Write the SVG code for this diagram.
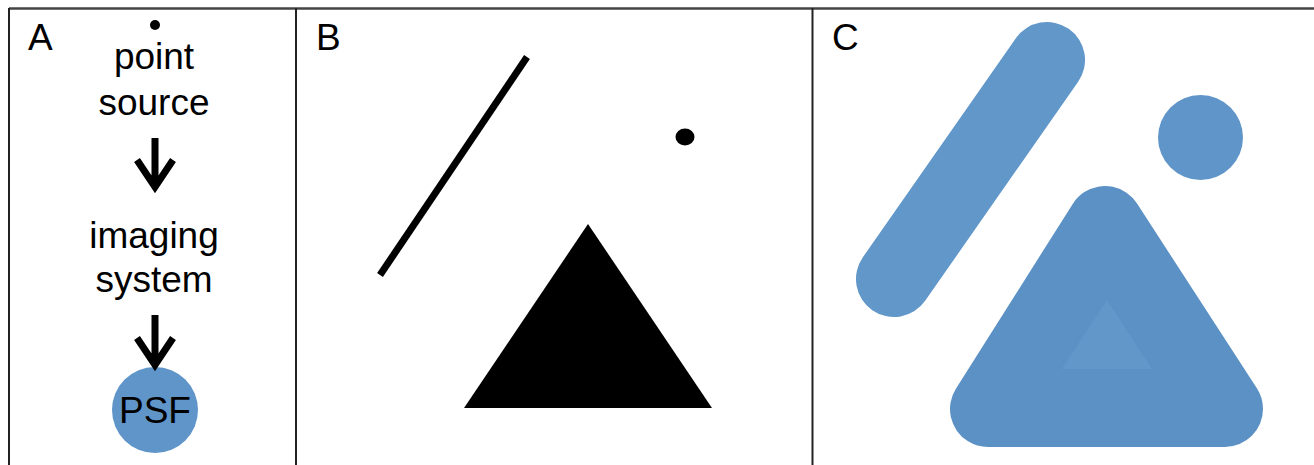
<svg xmlns="http://www.w3.org/2000/svg" width="1314" height="465" viewBox="0 0 1314 465">
<style>
.t{font-family:"Liberation Sans",Arial,sans-serif;font-size:37px;fill:#000}
.c{text-anchor:middle}
.frame{stroke:#222;stroke-width:2;fill:none}
.arr{stroke:#000;stroke-width:7;fill:none;stroke-linejoin:miter}
.blue{fill:#5f95c8}
</style>
<rect width="1314" height="465" fill="#fff"/>
<g id="frame" class="frame">
<line x1="9" y1="8.5" x2="1314" y2="8.5" stroke="#444" stroke-width="2.5"/>
<line x1="9" y1="8" x2="9" y2="465"/>
<line x1="296" y1="8" x2="296" y2="465"/>
<line x1="812.5" y1="8" x2="812.5" y2="465"/>
</g>
<g id="panelA">
<text class="t" x="28" y="50">A</text>
<g id="pointsource">
<circle cx="155" cy="25" r="5" fill="#000"/>
<text class="t c" x="154" y="69">point</text>
<text class="t c" x="154" y="115">source</text>
</g>
<g id="imaging">
<text class="t c" x="154" y="248">imaging</text>
<text class="t c" x="154" y="292">system</text>
</g>
<g id="psf">
<circle cx="155" cy="410" r="43" class="blue"/>
<text class="t c" x="155" y="423">PSF</text>
</g>
</g>
<g id="connectors" class="arr">
<path d="M155,138 V188 M137,160 L155,187 L173,160"/>
<path d="M155,315 V366 M137,338 L155,365 L173,338"/>
</g>
<g id="panelB">
<text class="t" x="316" y="50">B</text>
<line x1="380" y1="275" x2="527" y2="57" stroke="#000" stroke-width="7"/>
<ellipse cx="685" cy="137" rx="9.5" ry="8.5" fill="#000"/>
<polygon points="588,224 464,408 712,408" fill="#000"/>
</g>
<g id="panelC">
<text class="t" x="832" y="50">C</text>
<line x1="894" y1="279" x2="1047" y2="60" stroke="#6197c9" stroke-width="76" stroke-linecap="round"/>
<circle cx="1200.5" cy="137.5" r="42.5" class="blue"/>
<polygon points="1105,224 988,409 1225,409" fill="#5b91c4" stroke="#5b91c4" stroke-width="76" stroke-linejoin="round"/>
<polygon points="1107,300 1062,369 1152,369" fill="#6297c9"/>
</g>
</svg>
